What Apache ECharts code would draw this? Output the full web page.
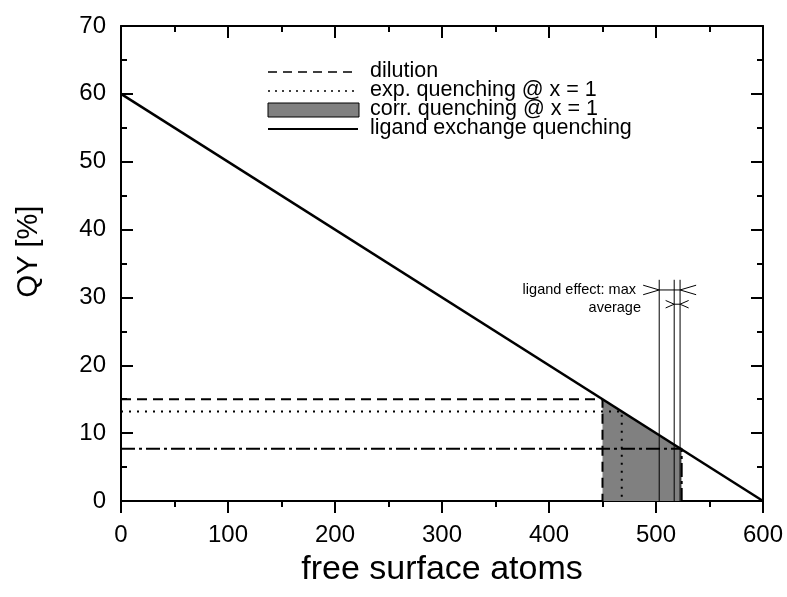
<!DOCTYPE html>
<html><head><meta charset="utf-8">
<script src="https://cdn.jsdelivr.net/npm/echarts@6/dist/echarts.min.js"></script>
<style>html,body{margin:0;padding:0;background:#fff}#c{width:787px;height:597px}</style>
</head><body><div id="c"></div>
<script>
// ---- data ----
const xRange = [0, 600];          // free surface atoms
const yRange = [0, 70];           // QY [%]
const xInterval = 100;
const yInterval = 10;
const ligandLine = [[0, 60], [600, 0]];                 // ligand exchange quenching
const dilution = [[0, 15], [450, 15], [450, 0]];         // dashed
const expQuench = [[0, 13.2], [468, 13.2], [468, 0]];    // dotted
const corrLevel = [[0, 7.7], [524, 7.7], [524, 0]];      // dash-dot
const corrArea = [[450, 15], [524, 7.6]];                // shaded under line
const effectVerticals = [503, 517, 522.5];
const effectTop = 32.6;
const maxBracket = [503, 522.5, 31.1];     // from, to, y
const avgBracket = [517, 522.5, 29.0];
const legendNames = ['dilution', 'exp. quenching @ x = 1', 'corr. quenching @ x = 1', 'ligand exchange quenching'];
const annotationTexts = ['ligand effect: max', 'average'];

const FONT = '"Liberation Sans", Arial, sans-serif';
const chart = echarts.init(document.getElementById('c'), null, {renderer: 'canvas'});

function bracketSegments(b, armW, armH) {
  const [x1, x2, y] = b;
  return [
    {coords: [[x1, y], [x2, y]]},
    {coords: [[x1 - armW, y + armH], [x1, y], [x1 - armW, y - armH]]},
    {coords: [[x2 + armW, y + armH], [x2, y], [x2 + armW, y - armH]]}
  ];
}

const thinSegs = effectVerticals.map(x => ({coords: [[x, 0], [x, effectTop]]}))
  .concat(bracketSegments(maxBracket, 15, 0.7))
  .concat(bracketSegments(avgBracket, 8, 0.55));

const axisCommon = {
  type: 'value',
  axisLine: {show: true, onZero: false, lineStyle: {color: '#000', width: 2}},
  splitLine: {show: false},
};

const option = {
  animation: false,
  backgroundColor: '#fff',
  grid: {left: 121, right: 24, top: 26, bottom: 96, containLabel: false},
  xAxis: [
    Object.assign({}, axisCommon, {
      position: 'bottom', min: xRange[0], max: xRange[1], interval: xInterval,
      name: 'free surface atoms', nameLocation: 'middle', nameGap: 52, nameMoveOverlap: false,
      nameTextStyle: {fontFamily: FONT, fontSize: 34, color: '#000'},
      axisTick: {show: true, inside: false, length: 12, lineStyle: {color: '#000', width: 2}},
      minorTick: {show: true, splitNumber: 2, length: 6, lineStyle: {color: '#000', width: 2}},
      axisLabel: {fontFamily: FONT, fontSize: 24, color: '#000', margin: 22}
    }),
    Object.assign({}, axisCommon, {
      position: 'top', min: xRange[0], max: xRange[1], interval: xInterval,
      axisTick: {show: true, inside: true, length: 12, lineStyle: {color: '#000', width: 2}},
      minorTick: {show: true, splitNumber: 2, length: 6, lineStyle: {color: '#000', width: 2}},
      axisLabel: {show: false}
    })
  ],
  yAxis: [
    Object.assign({}, axisCommon, {
      position: 'left', min: yRange[0], max: yRange[1], interval: yInterval,
      name: 'QY [%]', nameLocation: 'middle', nameGap: 78, nameRotate: 90,
      nameTextStyle: {fontFamily: FONT, fontSize: 29, color: '#000', padding: [0, 0, 0, 24]},
      axisTick: {show: true, inside: true, length: 12, lineStyle: {color: '#000', width: 2}},
      minorTick: {show: true, splitNumber: 2, length: 6, lineStyle: {color: '#000', width: 2}},
      axisLabel: {fontFamily: FONT, fontSize: 24, color: '#000', margin: 15}
    }),
    Object.assign({}, axisCommon, {
      position: 'right', min: yRange[0], max: yRange[1], interval: yInterval,
      axisTick: {show: true, inside: true, length: 12, lineStyle: {color: '#000', width: 2}},
      minorTick: {show: true, splitNumber: 2, length: 6, lineStyle: {color: '#000', width: 2}},
      axisLabel: {show: false}
    })
  ],
  series: [
    {
      type: 'line', name: legendNames[2], data: corrArea, symbol: 'none',
      lineStyle: {width: 0}, areaStyle: {color: '#808080', opacity: 1, origin: 'start'}, z: 1
    },
    {
      type: 'lines', coordinateSystem: 'cartesian2d', polyline: true, silent: true,
      lineStyle: {color: '#000', width: 1, opacity: 1}, data: thinSegs, z: 2
    },
    {
      type: 'line', name: legendNames[0], data: dilution, symbol: 'none',
      lineStyle: {color: '#000', width: 2, type: [10, 6]}, z: 3
    },
    {
      type: 'line', name: legendNames[1], data: expQuench, symbol: 'none',
      lineStyle: {color: '#000', width: 2, type: [2, 6]}, z: 3
    },
    {
      type: 'line', name: 'corr. level', data: corrLevel, symbol: 'none',
      lineStyle: {color: '#000', width: 2, type: [14, 4, 3, 4]}, z: 3
    },
    {
      type: 'line', name: legendNames[3], data: ligandLine, symbol: 'none',
      lineStyle: {color: '#000', width: 2.5}, z: 4
    }
  ],
  graphic: [
    {type: 'line', shape: {x1: 268, y1: 72, x2: 358, y2: 72}, style: {stroke: '#000', lineWidth: 1.5, lineDash: [9, 6]}},
    {type: 'line', shape: {x1: 268, y1: 91, x2: 358, y2: 91}, style: {stroke: '#000', lineWidth: 1.5, lineDash: [2, 5]}},
    {type: 'rect', shape: {x: 268, y: 103, width: 91, height: 14}, style: {fill: '#808080', stroke: '#000', lineWidth: 1}},
    {type: 'line', shape: {x1: 268, y1: 129, x2: 358, y2: 129}, style: {stroke: '#000', lineWidth: 2}},
    {type: 'text', left: 370, top: 60, style: {text: legendNames[0], font: '21.5px ' + FONT, fill: '#000'}},
    {type: 'text', left: 370, top: 79, style: {text: legendNames[1], font: '21.5px ' + FONT, fill: '#000'}},
    {type: 'text', left: 370, top: 98, style: {text: legendNames[2], font: '21.5px ' + FONT, fill: '#000'}},
    {type: 'text', left: 370, top: 117, style: {text: legendNames[3], font: '21.5px ' + FONT, fill: '#000'}},
    {type: 'text', right: 787 - 636, top: 282, style: {text: annotationTexts[0], font: '14.5px ' + FONT, fill: '#000', align: 'right'}},
    {type: 'text', right: 787 - 641, top: 300, style: {text: annotationTexts[1], font: '14.5px ' + FONT, fill: '#000', align: 'right'}}
  ]
};
chart.setOption(option);
</script>
</body></html>
